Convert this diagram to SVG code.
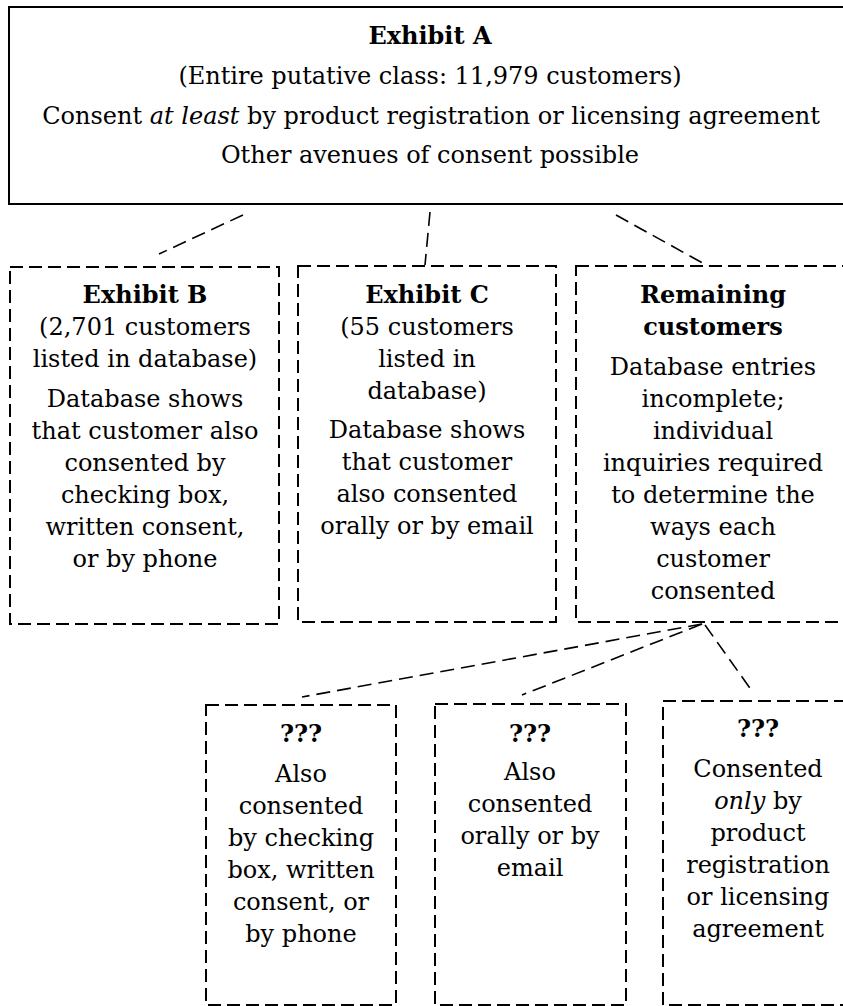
<svg xmlns="http://www.w3.org/2000/svg" width="843" height="1006" viewBox="0 0 843 1006">
<style>
  text { font-family: "DejaVu Serif", "Liberation Serif", serif; font-size: 24px; fill: #000; text-anchor: middle; }
  .b { font-weight: bold; }
  .i { font-style: italic; }
  .solid { fill: #fff; stroke: #000; stroke-width: 2; }
  .dash { fill: #fff; stroke: #000; stroke-width: 2; stroke-dasharray: 13 6; }
  .conn line { stroke: #000; stroke-width: 1.6; stroke-dasharray: 14 7; fill: none; }
</style>
<rect width="843" height="1006" fill="#fff"/>
<g id="connectors" class="conn">
  <line x1="243" y1="215" x2="159" y2="254"/>
  <line x1="430" y1="212" x2="425" y2="265"/>
  <line x1="616" y1="215" x2="708" y2="266"/>
  <line x1="702" y1="624" x2="302" y2="697"/>
  <line x1="702" y1="624" x2="522" y2="695"/>
  <line x1="705" y1="625" x2="752" y2="691"/>
</g>
<g id="exhibitA">
  <rect class="solid" x="9" y="7" width="850" height="197"/>
  <text x="430" y="44" class="b">Exhibit A</text>
  <text x="430" y="84">(Entire putative class: 11,979 customers)</text>
  <text x="431" y="124">Consent <tspan class="i">at least</tspan> by product registration or licensing agreement</text>
  <text x="430" y="163">Other avenues of consent possible</text>
</g>
<g id="exhibitB">
  <rect class="dash" x="10" y="267" width="269" height="357"/>
  <text x="145" y="303" class="b">Exhibit B</text>
  <text x="145" y="335">(2,701 customers</text>
  <text x="145" y="367">listed in database)</text>
  <text x="145" y="407">Database shows</text>
  <text x="145" y="439">that customer also</text>
  <text x="145" y="471">consented by</text>
  <text x="145" y="503">checking box,</text>
  <text x="145" y="535">written consent,</text>
  <text x="145" y="567">or by phone</text>
</g>
<g id="exhibitC">
  <rect class="dash" x="298" y="266" width="258" height="356"/>
  <text x="427" y="303" class="b">Exhibit C</text>
  <text x="427" y="335">(55 customers</text>
  <text x="427" y="367">listed in</text>
  <text x="427" y="399">database)</text>
  <text x="427" y="438">Database shows</text>
  <text x="427" y="470">that customer</text>
  <text x="427" y="502">also consented</text>
  <text x="427" y="534">orally or by email</text>
</g>
<g id="remaining">
  <rect class="dash" x="576" y="266" width="276" height="356"/>
  <text x="713" y="303" class="b">Remaining</text>
  <text x="713" y="335" class="b">customers</text>
  <text x="713" y="375">Database entries</text>
  <text x="713" y="407">incomplete;</text>
  <text x="713" y="439">individual</text>
  <text x="713" y="471">inquiries required</text>
  <text x="713" y="503">to determine the</text>
  <text x="713" y="535">ways each</text>
  <text x="713" y="567">customer</text>
  <text x="713" y="599">consented</text>
</g>
<g id="unknown1">
  <rect class="dash" x="206" y="705" width="190" height="300"/>
  <text x="301" y="742" class="b">???</text>
  <text x="301" y="782">Also</text>
  <text x="301" y="814">consented</text>
  <text x="301" y="846">by checking</text>
  <text x="301" y="878">box, written</text>
  <text x="301" y="910">consent, or</text>
  <text x="301" y="942">by phone</text>
</g>
<g id="unknown2">
  <rect class="dash" x="435" y="704" width="191" height="301"/>
  <text x="530" y="742" class="b">???</text>
  <text x="530" y="780">Also</text>
  <text x="530" y="812">consented</text>
  <text x="530" y="844">orally or by</text>
  <text x="530" y="876">email</text>
</g>
<g id="unknown3">
  <rect class="dash" x="663" y="701" width="190" height="304"/>
  <text x="758" y="737" class="b">???</text>
  <text x="758" y="777">Consented</text>
  <text x="758" y="809"><tspan class="i">only</tspan> by</text>
  <text x="758" y="841">product</text>
  <text x="758" y="873">registration</text>
  <text x="758" y="905">or licensing</text>
  <text x="758" y="937">agreement</text>
</g>
</svg>
